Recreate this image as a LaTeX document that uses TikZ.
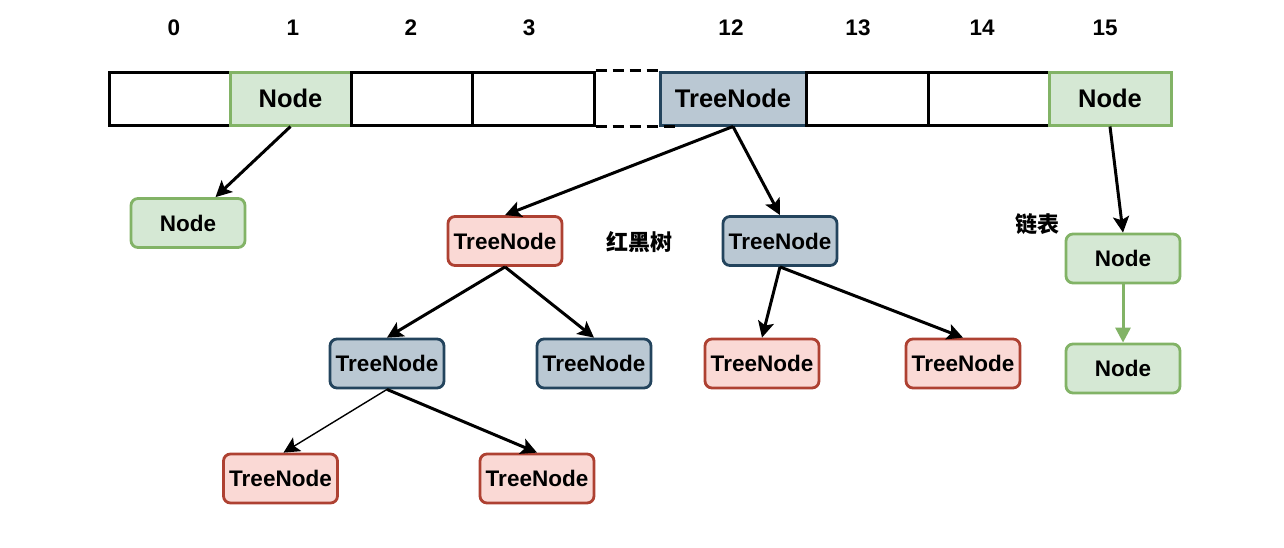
\documentclass[tikz,border=0pt]{standalone}
\usepackage{fontspec}
\setmainfont{Liberation Sans}
\newfontfamily\cjk{Noto Sans CJK SC}
\usetikzlibrary{arrows.meta}
\definecolor{gfill}{HTML}{D5E8D4}\definecolor{gline}{HTML}{82B366}
\definecolor{rfill}{HTML}{FAD9D5}\definecolor{rline}{HTML}{AE4132}
\definecolor{bfill}{HTML}{BAC8D3}\definecolor{bline}{HTML}{23445D}
\tikzset{
  cell/.style={draw=black, line width=3pt, minimum height=53pt, inner sep=0pt,
    font=\fontsize{25.5}{30}\selectfont\bfseries},
  box/.style={rounded corners=7pt, line width=2.8pt, minimum width=114pt,
    minimum height=49pt, inner sep=0pt, font=\fontsize{22.5}{26}\selectfont\bfseries},
  gbox/.style={box, draw=gline, fill=gfill},
  rbox/.style={box, draw=rline, fill=rfill},
  bbox/.style={box, draw=bline, fill=bfill},
  idx/.style={font=\fontsize{22.5}{26}\selectfont\bfseries},
  cjklabel/.style={font=\cjk\fontsize{22}{26}\selectfont\bfseries},
  link/.style={line width=3pt, -{Stealth[length=16pt,width=16pt,inset=3.5pt]}},
  gap/.style={line width=3pt, dash pattern=on 11pt off 6pt},
}
\begin{document}
\begin{tikzpicture}[x=1pt,y=-1pt]
\useasboundingbox (0,0) rectangle (1284,547);

% bucket array
\node[cell, minimum width=121pt] (c0) at (169.5,98.5) {};
\node[cell, minimum width=121pt, draw=gline, fill=gfill] (c1) at (290.5,98.5) {Node};
\node[cell, minimum width=121pt] (c2) at (411.5,98.5) {};
\node[cell, minimum width=122pt] (c3) at (533,98.5) {};
\node[cell, minimum width=146pt, draw=bline, fill=bfill] (c12) at (733,98.5) {TreeNode};
\node[cell, minimum width=122pt] (c13) at (867,98.5) {};
\node[cell, minimum width=121pt] (c14) at (988.5,98.5) {};
\node[cell, minimum width=122pt, draw=gline, fill=gfill] (c15) at (1110,98.5) {Node};
\draw[gap] (c3.north east) -- (c12.north west);
\draw[gap] (c3.south east) -- ([xshift=17pt]c12.south west);

% indices
\node[idx] (i0) at (174,28) {0};
\node[idx] (i1) at (293,28) {1};
\node[idx] (i2) at (411,28) {2};
\node[idx] (i3) at (529,28) {3};
\node[idx] (i12) at (731,28) {12};
\node[idx] (i13) at (858,28) {13};
\node[idx] (i14) at (982,28) {14};
\node[idx] (i15) at (1105,28) {15};

% single node
\node[gbox] (nA) at (188,223) {Node};

% red-black tree
\node[rbox] (t1) at (505,241) {TreeNode};
\node[bbox] (t2) at (780,241) {TreeNode};
\node[bbox] (t3) at (387,363.5) {TreeNode};
\node[bbox] (t4) at (594,363.5) {TreeNode};
\node[rbox] (t5) at (762,363.5) {TreeNode};
\node[rbox] (t6) at (963,363.5) {TreeNode};
\node[rbox] (t7) at (280.5,478.5) {TreeNode};
\node[rbox] (t8) at (537,478.5) {TreeNode};
\node[cjklabel] (lblRB) at (639,242) {红黑树};

% linked list
\node[gbox] (l1) at (1123,258.5) {Node};
\node[gbox] (l2) at (1123,368.5) {Node};
\node[cjklabel] (lblLL) at (1037,224) {链表};

% connectors
\draw[link] (c1.south) -- (nA);
\draw[link] (c12.south) -- (t1.north);
\draw[link] (c12.south) -- (t2.north);
\draw[link] (c15.south) -- (l1.north);
\draw[link, draw=gline, -{Triangle[length=15pt,width=15pt]}, fill=gline] (l1.south) -- (l2.north);
\draw[link] (t1.south) -- (t3.north);
\draw[link] (t1.south) -- (t4.north);
\draw[link] (t2.south) -- (t5.north);
\draw[link] (t2.south) -- (t6.north);
\draw[link, line width=1.4pt] (t3.south) -- ([xshift=3pt]t7.north);
\draw[link] (t3.south) -- (t8.north);
\end{tikzpicture}
\end{document}
